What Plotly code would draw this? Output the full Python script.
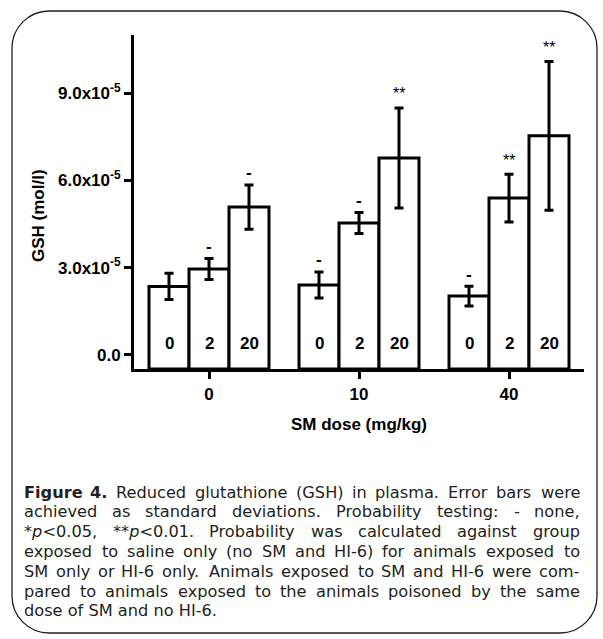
import plotly.graph_objects as go

# ---------------- data ----------------
SM_DOSES = ["0", "10", "40"]            # x categories (SM dose, mg/kg)
HI6_DOSES = ["0", "2", "20"]            # bar labels (HI-6 dose)
GSH_HI6_0 = [2.35e-5, 2.40e-5, 2.02e-5]
GSH_HI6_2 = [2.95e-5, 4.53e-5, 5.39e-5]
GSH_HI6_20 = [5.08e-5, 6.77e-5, 7.53e-5]
SD_HI6_0 = [0.45e-5, 0.45e-5, 0.34e-5]
SD_HI6_2 = [0.36e-5, 0.36e-5, 0.82e-5]
SD_HI6_20 = [0.76e-5, 1.72e-5, 2.56e-5]
SIG_HI6_0 = ["", "-", "-"]
SIG_HI6_2 = ["-", "-", "**"]
SIG_HI6_20 = ["-", "**", "**"]
Y_TICKS = [0, 3e-5, 6e-5, 9e-5]
Y_TICK_LABELS = ["0.0", "3.0x10<sup>-5</sup>", "6.0x10<sup>-5</sup>", "9.0x10<sup>-5</sup>"]
Y_TITLE = "GSH (mol/l)"
X_TITLE = "SM dose (mg/kg)"
CAPTION_LINES = [
    "Figure 4. Reduced glutathione (GSH) in plasma. Error bars were",
    "achieved as standard deviations. Probability testing: - none,",
    "*p<0.05, **p<0.01. Probability was calculated against group",
    "exposed to saline only (no SM and HI-6) for animals exposed to",
    "SM only or HI-6 only. Animals exposed to SM and HI-6 were com-",
    "pared to animals exposed to the animals poisoned by the same",
    "dose of SM and no HI-6.",
]

MEANS = [GSH_HI6_0, GSH_HI6_2, GSH_HI6_20]
SDS = [SD_HI6_0, SD_HI6_2, SD_HI6_20]
SIGS = [SIG_HI6_0, SIG_HI6_2, SIG_HI6_20]

# ---------------- layout geometry ----------------
W, H = 603, 639
PL, PR, PT, PB = 134, 584, 35, 369
Y_MIN, Y_MAX = -0.49e-5, 11.0e-5
GROUP_W = 0.8
BW = GROUP_W / len(HI6_DOSES)

ARIAL = "Arial, Liberation Sans, sans-serif"
CAP_FONT = "DejaVu Sans"
CAP_SIZE = 16.2
CAP_COLOR = "#231f20"


def px2x(px):
    return (px - PL) / (PR - PL)


def py2y(py):
    return (PB - py) / (PB - PT)


fig = go.Figure()
annotations = []

for k, (means, sds, sigs) in enumerate(zip(MEANS, SDS, SIGS)):
    xs = [i + (k - (len(HI6_DOSES) - 1) / 2) * BW for i in range(len(SM_DOSES))]
    fig.add_trace(go.Bar(
        x=xs, y=[m - Y_MIN for m in means], base=Y_MIN, width=BW,
        marker=dict(color="white", line=dict(color="black", width=3)),
        showlegend=False, hoverinfo="skip",
    ))
    fig.add_trace(go.Scatter(
        x=xs, y=means, mode="markers",
        marker=dict(size=1, color="rgba(0,0,0,0)"),
        error_y=dict(type="data", array=sds, thickness=3, width=4.5, color="black"),
        showlegend=False, hoverinfo="skip",
    ))
    for x, m, s, sig in zip(xs, means, sds, sigs):
        annotations.append(dict(
            x=x, y=0, yref="paper", xref="x", text="<b>%s</b>" % HI6_DOSES[k],
            showarrow=False, xanchor="center", yanchor="middle", yshift=26,
            font=dict(family=ARIAL, size=17, color="black")))
        if sig:
            bold = sig == "-"
            annotations.append(dict(
                x=x, y=m + s, xref="x", yref="y",
                text=("<b>%s</b>" % sig) if bold else sig,
                showarrow=False, xanchor="center", yanchor="middle",
                yshift=12 if bold else 14,
                font=dict(family=ARIAL, size=17 if bold else 16, color="black")))

# axis titles
annotations.append(dict(x=px2x(38), y=py2y(216), xref="paper", yref="paper",
                        xanchor="center", yanchor="middle",
                        text="<b>%s</b>" % Y_TITLE, textangle=-90, showarrow=False,
                        font=dict(family=ARIAL, size=17, color="black")))
annotations.append(dict(x=px2x(359), y=py2y(424), xref="paper", yref="paper",
                        xanchor="center", yanchor="middle",
                        text="<b>%s</b>" % X_TITLE, showarrow=False,
                        font=dict(family=ARIAL, size=17, color="black")))

# caption (justified by distributing words); DejaVu Sans advance widths / 1000 em
ADV = {" ": 318, "a": 613, "b": 635, "c": 550, "d": 635, "e": 615, "f": 352, "g": 635,
       "h": 634, "i": 278, "j": 278, "k": 579, "l": 278, "m": 974, "n": 634, "o": 612,
       "p": 635, "q": 635, "r": 411, "s": 521, "t": 392, "u": 634, "v": 592, "w": 818,
       "x": 592, "y": 592, "z": 525, "A": 684, "B": 686, "C": 698, "D": 770, "E": 632,
       "F": 575, "G": 775, "H": 752, "I": 295, "M": 863, "N": 748, "P": 603, "R": 695,
       "S": 635, "T": 611, ".": 318, ",": 318, ":": 337, "-": 361, "(": 390, ")": 390,
       "*": 500, "<": 838}


def word_w(word, bold=False):
    w = sum(ADV.get(c, 636) for c in word) * CAP_SIZE / 1000.0
    return w * (1.14 if bold else 1.01)


def markup(word, bold):
    t = word.replace("<", "&lt;")
    t = t.replace("p&lt;", "<i>p</i>&lt;")
    return "<b>%s</b>" % t if bold else t


TX_L, TX_R = 24, 580
LINE0, LINE_STEP = 492, 19.8
cap_common = dict(xref="paper", yref="paper", yanchor="middle", showarrow=False,
                  borderpad=0, borderwidth=0,
                  font=dict(family=CAP_FONT, size=CAP_SIZE, color=CAP_COLOR))
for li, line in enumerate(CAPTION_LINES):
    yc = py2y(LINE0 + li * LINE_STEP)
    words = line.split(" ")
    bolds = [li == 0 and wi < 2 for wi in range(len(words))]
    if li == len(CAPTION_LINES) - 1:
        annotations.append(dict(x=px2x(TX_L), y=yc, xanchor="left",
                                text=markup(line, False), **cap_common))
        continue
    widths = [word_w(w, b) for w, b in zip(words, bolds)]
    gap = (TX_R - TX_L - sum(widths)) / (len(words) - 1)
    pos = TX_L
    for wi, (w, b, ww) in enumerate(zip(words, bolds, widths)):
        last = wi == len(words) - 1
        annotations.append(dict(x=px2x(TX_R if last else pos), y=yc,
                                xanchor="right" if last else "left",
                                text=markup(w, b), **cap_common))
        pos += ww + gap

# rounded frame
BL, BT, BR, BB, RAD = 12, 11, 597, 633, 37
c = 0.4477 * RAD


def P(px, py):
    return "%.5f,%.5f" % (px2x(px), py2y(py))


frame = ("M" + P(BL + RAD, BT) + " L" + P(BR - RAD, BT) +
         " C" + P(BR - c, BT) + " " + P(BR, BT + c) + " " + P(BR, BT + RAD) +
         " L" + P(BR, BB - RAD) +
         " C" + P(BR, BB - c) + " " + P(BR - c, BB) + " " + P(BR - RAD, BB) +
         " L" + P(BL + RAD, BB) +
         " C" + P(BL + c, BB) + " " + P(BL, BB - c) + " " + P(BL, BB - RAD) +
         " L" + P(BL, BT + RAD) +
         " C" + P(BL, BT + c) + " " + P(BL + c, BT) + " " + P(BL + RAD, BT) + " Z")

axis_common = dict(showline=True, linecolor="black", linewidth=3, ticks="outside",
                   ticklen=7, tickwidth=3, tickcolor="black", showgrid=False,
                   zeroline=False, automargin=False, fixedrange=True,
                   tickfont=dict(family=ARIAL, size=17, color="black", weight="bold"))

fig.update_layout(
    width=W, height=H, autosize=False,
    margin=dict(l=PL, r=W - PR, t=PT, b=H - PB, pad=0),
    paper_bgcolor="white", plot_bgcolor="white",
    barmode="overlay", showlegend=False,
    annotations=annotations,
    shapes=[dict(type="path", path=frame, xref="paper", yref="paper",
                 line=dict(color=CAP_COLOR, width=1.3), layer="below")],
    xaxis=dict(range=[-0.5, 2.5], tickvals=list(range(len(SM_DOSES))), ticktext=SM_DOSES,
               ticklabelstandoff=1, **axis_common),
    yaxis=dict(range=[Y_MIN, Y_MAX], tickvals=Y_TICKS, ticktext=Y_TICK_LABELS,
               **axis_common),
)

fig.write_html("out.html", config={"displayModeBar": False},
               post_script="document.body.style.margin='0';document.body.style.overflow='hidden';")
